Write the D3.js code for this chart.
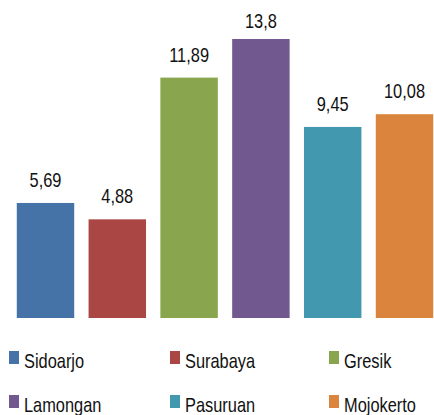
<!DOCTYPE html>
<html><head><meta charset="utf-8">
<script src="https://cdn.jsdelivr.net/npm/d3@7"></script>
<style>body{margin:0;background:#fff}svg{display:block}text{font-family:"Liberation Sans",Arial,sans-serif;fill:#111}</style>
</head><body>
<script>
const categories = ["Sidoarjo","Surabaya","Gresik","Lamongan","Pasuruan","Mojokerto"];
const values = [5.69, 4.88, 11.89, 13.8, 9.45, 10.08];
const labels = ["5,69","4,88","11,89","13,8","9,45","10,08"];
const colors = ["#4572A7","#AA4643","#89A54E","#71588F","#4198AF","#DB843D"];

const W = 434, H = 415;
const SX = 0.82;
const svg = d3.select("body").append("svg").attr("width", W).attr("height", H);

const x = d3.scaleBand().domain(categories).range([9.6, 440.4]).paddingInner(0.2).paddingOuter(0.1);
const y = d3.scaleLinear().domain([0, 13.8]).range([318, 39]);
const color = d3.scaleOrdinal().domain(categories).range(colors);

svg.selectAll("rect.bar").data(categories).join("rect").attr("class","bar")
  .attr("x", d => x(d)).attr("width", x.bandwidth())
  .attr("y", (d,i) => y(values[i])).attr("height", (d,i) => y(0) - y(values[i]))
  .attr("fill", d => color(d));

svg.selectAll("text.lbl").data(categories).join("text").attr("class","lbl")
  .attr("transform", (d,i) => `translate(${x(d) + x.bandwidth()/2},${Math.max(y(values[i]) - 16, 28)}) scale(${SX},1)`)
  .attr("text-anchor","middle").attr("font-size", 20)
  .text((d,i) => labels[i]);

const colX = [9, 170, 329];
const rowY = [351, 395];
const leg = svg.selectAll("g.leg").data(categories).join("g").attr("class","leg")
  .attr("transform", (d,i) => `translate(${colX[i%3]},${rowY[Math.floor(i/3)]})`);
leg.append("rect").attr("width", 10).attr("height", 13).attr("fill", d => color(d));
leg.append("text").attr("transform", `translate(15,17) scale(${SX},1)`).attr("font-size", 20).text(d => d);
</script>
</body></html>
